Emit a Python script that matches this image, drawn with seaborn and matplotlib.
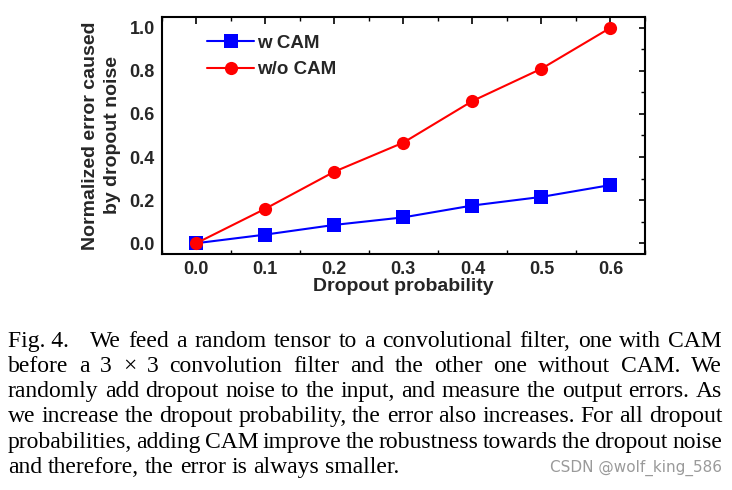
import matplotlib
matplotlib.use("Agg")
import matplotlib.pyplot as plt
import seaborn as sns
import pandas as pd
import numpy as np
from matplotlib.ticker import MultipleLocator

# data
dropout_prob = [0.0, 0.1, 0.2, 0.3, 0.4, 0.5, 0.6]
err_w_cam = [0.0, 0.04, 0.085, 0.12, 0.175, 0.215, 0.27]
err_wo_cam = [0.0, 0.16, 0.332, 0.467, 0.66, 0.81, 1.0]
series_names = ["w CAM", "w/o CAM"]
x_ticks = [0.0, 0.1, 0.2, 0.3, 0.4, 0.5, 0.6]
y_ticks = [0.0, 0.2, 0.4, 0.6, 0.8, 1.0]

caption_lines = [
    ["Fig. 4.", "We", "feed", "a", "random", "tensor", "to", "a", "convolutional", "filter,", "one", "with", "CAM"],
    ["before", "a", "3", "\u00d7", "3", "convolution", "filter", "and", "the", "other", "one", "without", "CAM.", "We"],
    ["randomly", "add", "dropout", "noise", "to", "the", "input,", "and", "measure", "the", "output", "errors.", "As"],
    ["we", "increase", "the", "dropout", "probability,", "the", "error", "also", "increases.", "For", "all", "dropout"],
    ["probabilities,", "adding", "CAM", "improve", "the", "robustness", "towards", "the", "dropout", "noise"],
    ["and", "therefore,", "the", "error", "is", "always", "smaller."],
]
watermark = "CSDN @wolf_king_586"

df = pd.DataFrame({
    "p": dropout_prob * 2,
    "err": err_w_cam + err_wo_cam,
    "method": [series_names[0]] * len(dropout_prob) + [series_names[1]] * len(dropout_prob),
})

sns.set_style("white")
plt.rcParams["font.family"] = ["Liberation Sans", "DejaVu Sans"]
plt.rcParams["font.weight"] = "bold"

W, H = 732, 490
fig = plt.figure(figsize=(W / 100, H / 100), dpi=100)
ax = fig.add_axes([161.7 / W, 1 - 254 / H, (645 - 161.7) / W, (254 - 17) / H])

sns.lineplot(data=df, x="p", y="err", hue="method", style="method",
             palette={"w CAM": "#0000ff", "w/o CAM": "#ff0000"},
             markers={"w CAM": "s", "w/o CAM": "o"}, dashes=False,
             markersize=9.5, markeredgewidth=0, linewidth=1.5, ax=ax)

ax.set_xlim(-0.05, 0.65)
ax.set_ylim(-0.05, 1.05)
ax.set_xticks(x_ticks)
ax.set_yticks(y_ticks)
ax.set_xticklabels([f"{v:.1f}" for v in x_ticks], fontsize=13, fontweight="bold")
ax.set_yticklabels([f"{v:.1f}" for v in y_ticks], fontsize=13, fontweight="bold")
ax.xaxis.set_minor_locator(MultipleLocator(0.05))
ax.yaxis.set_minor_locator(MultipleLocator(0.1))
ax.tick_params(axis="both", which="both", direction="in", color="black")
ax.tick_params(axis="both", which="major", length=5, width=1.2, pad=5)
ax.tick_params(axis="x", which="minor", length=3, width=1, top=True, bottom=True)
ax.tick_params(axis="x", which="major", top=True)
ax.tick_params(axis="y", which="major", right=True, length=4)
ax.tick_params(axis="y", which="minor", left=False, right=True, length=3, width=1)
for s in ax.spines.values():
    s.set_color("black")
    s.set_linewidth(1.5)

ax.set_xlabel("Dropout probability", fontsize=14, fontweight="bold", labelpad=0)
ax.set_ylabel("Normalized error caused\nby dropout noise", fontsize=14,
              fontweight="bold", labelpad=6, linespacing=1.35)

leg = ax.legend(loc="upper left", bbox_to_anchor=(0.075, 0.965), frameon=False,
                fontsize=13.5, handlelength=2.5, handletextpad=0.15,
                borderpad=0, labelspacing=0.5, markerscale=1.0)
for t in leg.get_texts():
    t.set_fontweight("bold")

# justified caption below the chart
renderer = fig.canvas.get_renderer()
cap_left, cap_right = 8, 722
cap_top = 341
line_gap = 25.3
cap_size = 17
for i, words in enumerate(caption_lines):
    y_px = cap_top + i * line_gap
    texts = [fig.text(0, 1 - y_px / H, w, fontsize=cap_size, fontweight="normal",
                      family="Liberation Serif", va="center", ha="left", color="black")
             for w in words]
    widths = [t.get_window_extent(renderer).width for t in texts]
    space = texts[0].get_fontsize() * 100 / 72 * 0.25
    extra_first = 14 if i == 0 else 0
    if i < len(caption_lines) - 1:
        gap = (cap_right - cap_left - sum(widths) - extra_first) / (len(words) - 1)
    else:
        gap = space
    x = cap_left
    for j, (t, w) in enumerate(zip(texts, widths)):
        t.set_x(x / W)
        x += w + gap + (extra_first if j == 0 else 0)

fig.text(722 / W, 1 - 468 / H, watermark, fontsize=11, color="#9a9a9a",
         ha="right", va="center", fontweight="normal", family="DejaVu Sans")

fig.savefig("out.png", dpi=100, facecolor="white")
